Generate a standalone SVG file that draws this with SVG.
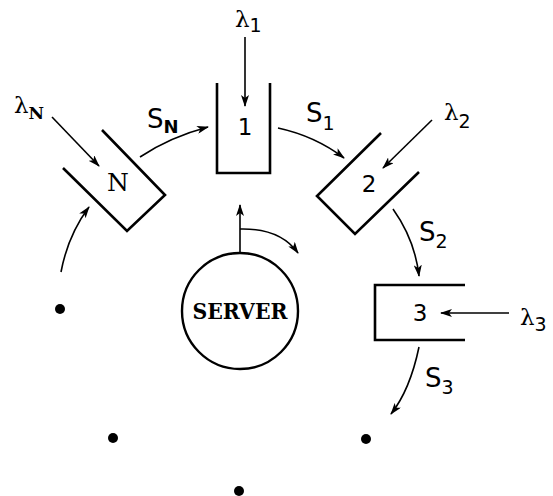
<svg xmlns="http://www.w3.org/2000/svg" width="553" height="496" viewBox="0 0 553 496">
<style>
.q{fill:none;stroke:#000;stroke-width:2.6;stroke-linejoin:miter}
.a{fill:none;stroke:#000;stroke-width:1.6;marker-end:url(#ah)}
.t{font-family:"DejaVu Serif","Liberation Serif",serif;fill:#000}
.s{font-family:"DejaVu Sans","Liberation Sans",sans-serif;fill:#000}
.dot{fill:#000}
</style>
<defs>
<marker id="ah" viewBox="0 0 12 8" refX="11" refY="4" markerWidth="12" markerHeight="8" markerUnits="userSpaceOnUse" orient="auto">
<path d="M0,0 L12,4 L0,8 L3,4 Z" fill="#000"/>
</marker>
</defs>
<rect width="553" height="496" fill="#fff"/>
<g id="queue1">
<path class="q" d="M217,83 V173 H270 V83"/>
<text class="s" x="245" y="135" font-size="23" text-anchor="middle">1</text>
</g>
<g id="queueN">
<path class="q" d="M102,130 L165,195 L127,231 L63,168"/>
<text class="t" x="118" y="191" font-size="25" text-anchor="middle">N</text>
</g>
<g id="queue2">
<path class="q" d="M381,133 L317,196 L355,234 L419,172"/>
<text class="s" x="369" y="192" font-size="23" text-anchor="middle">2</text>
</g>
<g id="queue3">
<path class="q" d="M465,285 H375 V340 H465"/>
<text class="s" x="420" y="321" font-size="23" text-anchor="middle">3</text>
</g>
<g id="server">
<circle cx="240" cy="311" r="58" fill="none" stroke="#000" stroke-width="2.4"/>
<text class="t" x="240" y="319" font-family="Liberation Serif" font-size="23" font-weight="bold" text-anchor="middle" textLength="95" lengthAdjust="spacingAndGlyphs">SERVER</text>
</g>
<g id="labels">
<text class="t" x="235" y="27" font-size="23">λ<tspan class="s" font-size="19" dy="5">1</tspan></text>
<text class="t" x="14" y="113" font-size="23">λ<tspan font-size="17" font-weight="bold" dy="6">N</tspan></text>
<text class="t" x="444" y="120" font-size="23">λ<tspan class="s" font-size="19" dy="8">2</tspan></text>
<text class="t" x="520" y="325" font-size="23">λ<tspan class="s" font-size="19" dy="6">3</tspan></text>
<text class="s" x="147" y="128" font-size="26">S<tspan font-size="18" font-weight="bold" dy="5">N</tspan></text>
<text class="s" x="306" y="122" font-size="26">S<tspan font-size="19" dy="8">1</tspan></text>
<text class="s" x="419" y="241" font-size="26">S<tspan font-size="19" dy="7">2</tspan></text>
<text class="s" x="425" y="387" font-size="26">S<tspan font-size="19" dy="7">3</tspan></text>
</g>
<g id="connectors">
<path class="a" d="M245,37 V106"/>
<path class="a" d="M52,117 L99,166"/>
<path class="a" d="M432,120 L383,168"/>
<path class="a" d="M509,313 H441"/>
<path class="a" d="M140,157 Q170,137 208,127"/>
<path class="a" d="M278,128 Q315,136 344,158"/>
<path class="a" d="M393,209 Q415,240 419,276"/>
<path class="a" d="M419,347 Q410,390 391,414"/>
<path class="a" d="M61,272 Q68,235 89,207"/>
<path class="a" d="M240,252 V205"/>
<path class="a" d="M240,229 Q280,228 298,253"/>
</g>
<g id="dots">
<circle class="dot" cx="60" cy="309" r="5"/>
<circle class="dot" cx="113" cy="438" r="5"/>
<circle class="dot" cx="239" cy="491" r="5"/>
<circle class="dot" cx="366" cy="439" r="5"/>
</g>
</svg>
